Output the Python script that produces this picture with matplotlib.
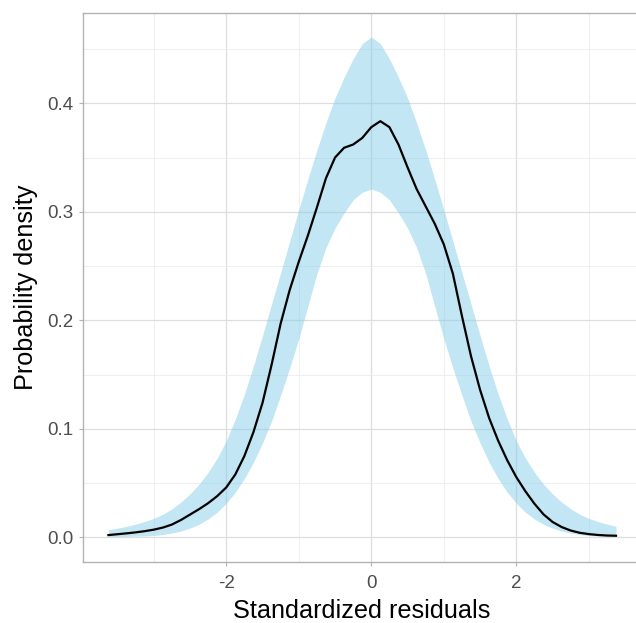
import matplotlib
matplotlib.use("Agg")
import matplotlib.pyplot as plt
import numpy as np

# ── values ─────────────────────────────────────────────────────────
# grid of standardized residuals (step 0.125)
resid_x = np.arange(-3.625, 3.376, 0.125)

# observed density of residuals (black curve)
density = [
    0.0021, 0.0029, 0.0037, 0.0046, 0.0057, 0.0071, 0.0090, 0.0118,
    0.0160, 0.0210, 0.0260, 0.0315, 0.0380, 0.0460, 0.0580, 0.0750,
    0.0970, 0.1240, 0.1590, 0.1970, 0.2280, 0.2540, 0.2780, 0.3040,
    0.3310, 0.3500, 0.3590, 0.3620, 0.3680, 0.3780, 0.3835, 0.3780,
    0.3620, 0.3410, 0.3210, 0.3050, 0.2890, 0.2700, 0.2430, 0.2040,
    0.1670, 0.1360, 0.1100, 0.0890, 0.0710, 0.0555, 0.0425, 0.0310,
    0.0212, 0.0142, 0.0095, 0.0063, 0.0042, 0.0030, 0.0022, 0.0017,
    0.0015,
]

# reference band, upper edge
band_hi = [
    0.0070, 0.0085, 0.0102, 0.0122, 0.0146, 0.0175, 0.0213, 0.0263,
    0.0325, 0.0400, 0.0490, 0.0600, 0.0730, 0.0890, 0.1090, 0.1320,
    0.1580, 0.1860, 0.2150, 0.2440, 0.2730, 0.3020, 0.3300, 0.3570,
    0.3820, 0.4050, 0.4240, 0.4410, 0.4550, 0.4610, 0.4550, 0.4410,
    0.4240, 0.4050, 0.3820, 0.3570, 0.3300, 0.3020, 0.2730, 0.2440,
    0.2150, 0.1860, 0.1580, 0.1320, 0.1090, 0.0890, 0.0730, 0.0600,
    0.0490, 0.0400, 0.0325, 0.0263, 0.0213, 0.0175, 0.0146, 0.0122,
    0.0102,
]

# reference band, lower edge
band_lo = [
    0.0005, 0.0006, 0.0008, 0.0011, 0.0013, 0.0017, 0.0026, 0.0040,
    0.0058, 0.0085, 0.0121, 0.0169, 0.0232, 0.0314, 0.0416, 0.0541,
    0.0692, 0.0870, 0.1070, 0.1310, 0.1560, 0.1830, 0.2130, 0.2430,
    0.2670, 0.2850, 0.2990, 0.3110, 0.3180, 0.3210, 0.3180, 0.3110,
    0.2990, 0.2850, 0.2670, 0.2430, 0.2130, 0.1830, 0.1560, 0.1310,
    0.1070, 0.0870, 0.0692, 0.0541, 0.0416, 0.0314, 0.0232, 0.0169,
    0.0121, 0.0085, 0.0058, 0.0040, 0.0026, 0.0017, 0.0013, 0.0011,
    0.0008,
]

x_major = [-2, 0, 2]
x_minor = [-3, -1, 1, 3]
y_major = [0.0, 0.1, 0.2, 0.3, 0.4]
y_minor = [0.05, 0.15, 0.25, 0.35, 0.45]

plt.rcParams["font.family"] = ["Liberation Sans", "DejaVu Sans"]

fig = plt.figure(figsize=(6.36, 6.23), dpi=100)
ax = fig.add_axes([0.130, 0.0974, 0.8785, 0.8814])

ax.fill_between(resid_x, band_lo, band_hi, color="#87CEEB", alpha=0.5,
                linewidth=0, zorder=2)
ax.plot(resid_x, density, color="black", linewidth=1.6, zorder=3,
        solid_joinstyle="round")

ax.set_xlim(-3.98, 3.725)
ax.set_ylim(-0.023, 0.483)

ax.set_xticks(x_major)
ax.set_xticklabels(["-2", "0", "2"])
ax.set_xticks(x_minor, minor=True)
ax.set_yticks(y_major)
ax.set_yticklabels([f"{v:.1f}" for v in y_major])
ax.set_yticks(y_minor, minor=True)

ax.set_axisbelow(True)
ax.grid(which="major", color="#DEDEDE", linewidth=0.9)
ax.grid(which="minor", color="#EDEDED", linewidth=0.6)

for s in ax.spines.values():
    s.set_color("#B3B3B3")
    s.set_linewidth(1.0)

ax.tick_params(which="major", length=3.2, width=0.8, color="#B3B3B3",
               labelsize=13.5, labelcolor="#4D4D4D")
ax.tick_params(axis="x", which="major", pad=6.0)
ax.tick_params(axis="y", which="major", pad=3.2)
ax.tick_params(which="minor", length=0)

ax.set_xlabel("Standardized residuals", fontsize=18.2, color="black")
ax.set_ylabel("Probability density", fontsize=18.2, color="black")
ax.xaxis.set_label_coords(0.5, -0.067)
ax.yaxis.set_label_coords(-0.080, 0.5)

fig.savefig("out.png", dpi=100, facecolor="white")
